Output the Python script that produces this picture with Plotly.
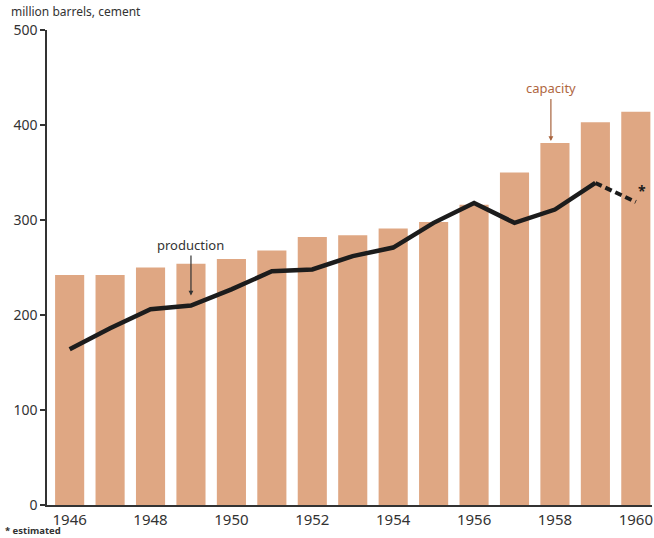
import plotly.graph_objects as go

# Cement: productive capacity vs. actual production (million barrels)
years = list(range(1946, 1961))
capacity = [242, 242, 250, 254, 259, 268, 282, 284, 291, 298, 316, 350, 381, 403, 414]
production = [164, 186, 206, 210, 227, 246, 248, 262, 271, 297, 318, 297, 311, 339, 319]
year_ticks = [1946, 1948, 1950, 1952, 1954, 1956, 1958, 1960]
y_ticks = [0, 100, 200, 300, 400, 500]

BAR = "#dfa783"
INK = "#1c1c1c"
TEXT = "#333333"
FONT = "Noto Sans"

fig = go.Figure()

fig.add_trace(go.Bar(
    x=years, y=capacity, width=0.72,
    marker=dict(color=BAR, line=dict(width=0)),
    hoverinfo="skip", showlegend=False,
))

# Actual production (solid), 1960 estimate drawn dashed
fig.add_trace(go.Scatter(
    x=years[:-1], y=production[:-1], mode="lines",
    line=dict(color=INK, width=4.5),
    showlegend=False, hoverinfo="skip",
))
fig.add_trace(go.Scatter(
    x=years[-2:], y=production[-2:], mode="lines",
    line=dict(color=INK, width=4, dash="7px,4px"),
    showlegend=False, hoverinfo="skip",
))

annotations = [
    dict(x=1949, y=210, ax=0, ay=-50, xref="x", yref="y", axref="pixel", ayref="pixel",
         text="production", showarrow=True, arrowhead=2, arrowsize=0.8, arrowwidth=1.2,
         arrowcolor=TEXT, standoff=10, yanchor="bottom",
         font=dict(family=FONT, size=13, color=TEXT)),
    dict(x=1957.9, y=381, ax=0, ay=-44, xref="x", yref="y", axref="pixel", ayref="pixel",
         text="capacity", showarrow=True, arrowhead=2, arrowsize=0.8, arrowwidth=1.2,
         arrowcolor="#a8643e", standoff=2, yanchor="bottom",
         font=dict(family=FONT, size=13, color="#b0673f")),
    dict(x=1960, y=production[-1], xref="x", yref="y", text="<b>*</b>", showarrow=False,
         xshift=6, yshift=11, font=dict(family=FONT, size=14, color=INK)),
    dict(x=-0.062, y=1.038, xref="paper", yref="paper", text="million barrels, cement",
         showarrow=False, xanchor="left", yanchor="middle",
         font=dict(family=FONT, size=12, color=TEXT)),
    dict(x=-0.072, y=-0.053, xref="paper", yref="paper", text="<b>* estimated</b>",
         showarrow=False, xanchor="left", yanchor="middle",
         font=dict(family=FONT, size=9.5, color=TEXT)),
]

fig.update_layout(
    width=654, height=538,
    margin=dict(l=47, r=2, t=30, b=33),
    paper_bgcolor="white", plot_bgcolor="white",
    bargap=0.28,
    annotations=annotations,
    font=dict(family=FONT, color=TEXT),
)
fig.update_xaxes(
    range=[1945.44, 1960.4], tickvals=year_ticks, ticktext=[str(y) for y in year_ticks],
    showgrid=False, zeroline=False, showline=True, linecolor=TEXT, linewidth=1.5,
    ticks="", tickfont=dict(family=FONT, size=15, color=TEXT),
)
fig.update_yaxes(
    range=[0, 500], tickvals=y_ticks, showgrid=False, zeroline=False,
    showline=True, linecolor=TEXT, linewidth=1.5, ticks="outside", ticklen=5,
    tickcolor=TEXT, tickwidth=1.5, tickfont=dict(family=FONT, size=14, color=TEXT),
)

fig.write_html("out.html")
